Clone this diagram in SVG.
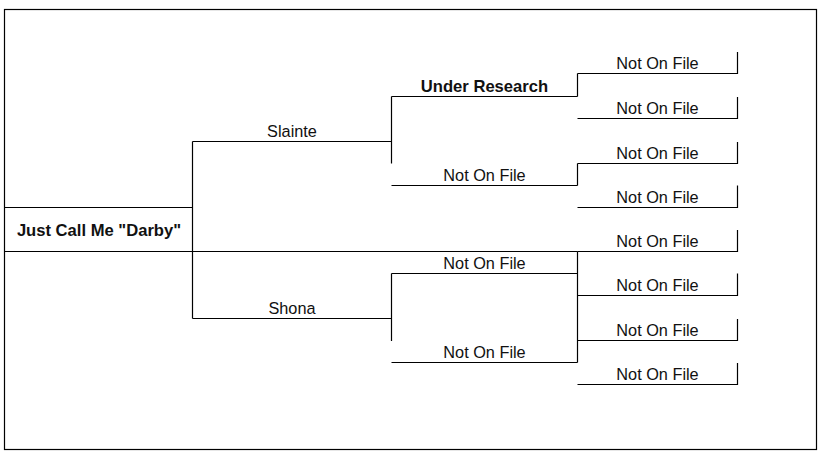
<svg xmlns="http://www.w3.org/2000/svg" width="828" height="454" viewBox="0 0 828 454">
<style>
  .ln { stroke: #000; stroke-width: 1.2; fill: none; }
  .t { font-family: "Liberation Sans", Arial, sans-serif; font-size: 16.3px; fill: #111; text-anchor: middle; }
  .b { font-weight: bold; font-size: 16.6px; }
</style>
<rect x="0" y="0" width="828" height="454" fill="#fff"/>
<rect id="frame" class="ln" x="4.5" y="9.5" width="812" height="440"/>

<g id="connectors">
  <path class="ln" d="M192.5 141.5 V318.5"/>
  <path class="ln" d="M192.5 251.5 H577.5"/>
  <path class="ln" d="M391.5 96.5 V163.5"/>
  <path class="ln" d="M391.5 273.5 V341"/>
  <path class="ln" d="M577.5 73.5 V96.5"/>
  <path class="ln" d="M577.5 163.5 V185.5"/>
  <path class="ln" d="M577.5 251.5 V362.5"/>
</g>

<g id="root">
  <path class="ln" d="M4.5 207.5 H192.5 M4.5 251.5 H192.5"/>
  <text class="t b" x="99" y="236">Just Call Me "Darby"</text>
</g>

<g id="slainte">
  <path class="ln" d="M192.5 141.5 H391.5"/>
  <text class="t" x="292" y="136.5">Slainte</text>
</g>
<g id="shona">
  <path class="ln" d="M192.5 318.5 H391.5"/>
  <text class="t" x="292" y="313.5">Shona</text>
</g>

<g id="under-research">
  <path class="ln" d="M391.5 96.5 H577.5"/>
  <text class="t b" x="484.5" y="91.7">Under Research</text>
</g>
<g id="gp2">
  <path class="ln" d="M391.5 185.5 H577.5"/>
  <text class="t" x="484.5" y="181">Not On File</text>
</g>
<g id="gp3">
  <path class="ln" d="M391.5 273.5 H577.5"/>
  <text class="t" x="484.5" y="269">Not On File</text>
</g>
<g id="gp4">
  <path class="ln" d="M391.5 362.5 H577.5"/>
  <text class="t" x="484.5" y="358">Not On File</text>
</g>

<g id="ggp1">
  <path class="ln" d="M577.5 73.5 H737.5 V52"/>
  <text class="t" x="657.5" y="69.3">Not On File</text>
</g>
<g id="ggp2">
  <path class="ln" d="M577.5 118.5 H737.5 V97"/>
  <text class="t" x="657.5" y="114.2">Not On File</text>
</g>
<g id="ggp3">
  <path class="ln" d="M577.5 163.5 H737.5 V142"/>
  <text class="t" x="657.5" y="159">Not On File</text>
</g>
<g id="ggp4">
  <path class="ln" d="M577.5 207.5 H737.5 V185.5"/>
  <text class="t" x="657.5" y="203">Not On File</text>
</g>
<g id="ggp5">
  <path class="ln" d="M577.5 251.5 H737.5 V230"/>
  <text class="t" x="657.5" y="247">Not On File</text>
</g>
<g id="ggp6">
  <path class="ln" d="M577.5 295.5 H737.5 V273.5"/>
  <text class="t" x="657.5" y="291">Not On File</text>
</g>
<g id="ggp7">
  <path class="ln" d="M577.5 340.5 H737.5 V319"/>
  <text class="t" x="657.5" y="336">Not On File</text>
</g>
<g id="ggp8">
  <path class="ln" d="M577.5 384.5 H737.5 V363"/>
  <text class="t" x="657.5" y="380">Not On File</text>
</g>
</svg>
